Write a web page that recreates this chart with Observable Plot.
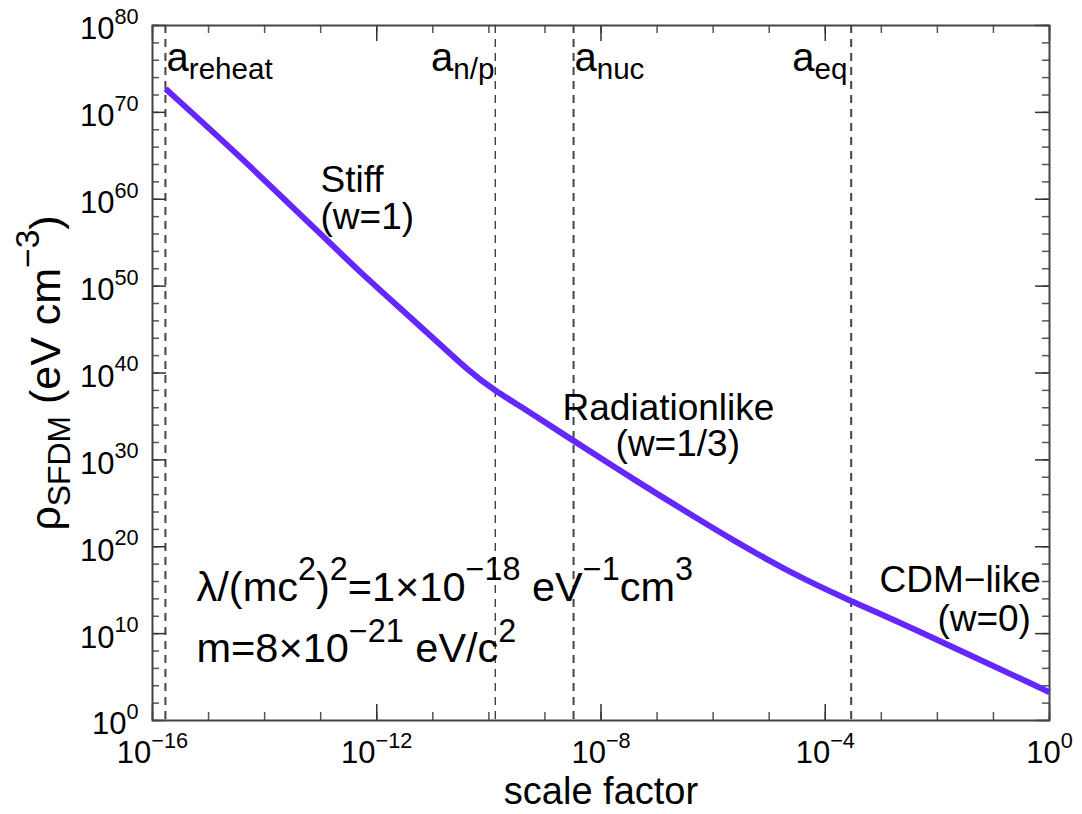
<!DOCTYPE html>
<html>
<head>
<meta charset="utf-8">
<script src="https://cdn.jsdelivr.net/npm/d3@7"></script>
<script src="https://cdn.jsdelivr.net/npm/@observablehq/plot@0.6"></script>
<style>
  html, body { margin: 0; padding: 0; background: #fff; }
</style>
</head>
<body>
<div id="chart"></div>
<script>
// ---- data ----
const scaleFactor = [1.71e-16, 2.82e-15, 1.14e-13, 5.13e-13, 2.65e-12, 1.04e-11, 4.70e-11, 1.22e-10, 4.83e-10, 1.90e-9,
                     5.07e-8, 5.96e-7, 2.34e-6, 9.20e-6, 3.61e-5, 2.82e-4, 2.20e-3, 1];
const rhoSFDM =     [5.13e72, 4.07e65, 4.27e55, 3.7e51, 2.65e47, 9.3e43, 1.15e40, 1.10e38, 4.79e35, 1.41e33,
                     1.78e27, 1.05e23, 5.25e20, 3.4e18, 2.9e16, 5.7e13, 1.9e11, 1.82e3];

const epochNames = ["a_{reheat}", "a_{n/p}", "a_{nuc}", "a_{eq}"];
const epochValues = [1.7e-16, 1.3e-10, 3.24e-9, 2.9e-4];
const epochLabelA = [1.78e-16, 1.26e-10, 3.36e-9, 2.49e-4];
const epochLabelRho = [1.95e76, 1.95e76, 1.95e76, 1.95e76];
const epochLabelAnchor = ["start", "end", "start", "end"];

const phaseLabels = ["Stiff", "(w=1)", "Radiationlike", "(w=1/3)", "CDM−like", "(w=0)"];
const phaseLabelA = [9.93e-14, 9.93e-14, 2.06e-9, 1.82e-8, 9.29e-4, 1.0e-2];
const phaseLabelRho = [1.5e62, 9.1e57, 1.0e36, 7.2e31, 1.3e16, 5.2e11];

const paramLabels = ["λ/(mc^{2})^{2}=1×10^{−18} eV^{−1}cm^{3}", "m=8×10^{−21} eV/c^{2}"];
const paramLabelA = [6.1e-16, 6.1e-16];
const paramLabelRho = [2.1e15, 1.66e8];

const xMinorTicks = [1e-16, 1e-15, 1e-14, 1e-13, 1e-12, 1e-11, 1e-10, 1e-9, 1e-8, 1e-7, 1e-6, 1e-5, 1e-4, 1e-3, 1e-2, 1e-1, 1];
const xMajorTicks = [1e-16, 1e-12, 1e-8, 1e-4, 1];
const xTickLabels = ["10^{−16}", "10^{−12}", "10^{−8}", "10^{−4}", "10^{0}"];
const yMinorTicks = [1e0, 1e2, 1e4, 1e6, 1e8, 1e10, 1e12, 1e14, 1e16, 1e18, 1e20, 1e22, 1e24, 1e26, 1e28, 1e30,
                     1e32, 1e34, 1e36, 1e38, 1e40, 1e42, 1e44, 1e46, 1e48, 1e50, 1e52, 1e54, 1e56, 1e58, 1e60,
                     1e62, 1e64, 1e66, 1e68, 1e70, 1e72, 1e74, 1e76, 1e78, 1e80];
const yMajorTicks = [1e0, 1e10, 1e20, 1e30, 1e40, 1e50, 1e60, 1e70, 1e80];
const yTickLabels = ["10^{0}", "10^{10}", "10^{20}", "10^{30}", "10^{40}", "10^{50}", "10^{60}", "10^{70}", "10^{80}"];

const xLabel = "scale factor";
const yLabel = "ρ_{SFDM} (eV cm^{−3})";

// ---- tables built from the arrays ----
const curve = scaleFactor.map((a, i) => ({a, rho: rhoSFDM[i]}));
const epochs = epochNames.map((name, i) => ({name, a: epochValues[i]}));
const epochText = epochNames.map((name, i) => ({name, a: epochLabelA[i], rho: epochLabelRho[i], anchor: epochLabelAnchor[i]}));
const phaseText = phaseLabels.map((t, i) => ({t, a: phaseLabelA[i], rho: phaseLabelRho[i]}));
const paramText = paramLabels.map((t, i) => ({t, a: paramLabelA[i], rho: paramLabelRho[i]}));

const W = 1082, H = 814;
const mL = 152, mR = 33, mT = 25, mB = 94;
const innerW = W - mL - mR, innerH = H - mT - mB;
const tickColor = "#555";

const chart = Plot.plot({
  width: W, height: H,
  marginLeft: mL, marginRight: mR, marginTop: mT, marginBottom: mB,
  style: {fontFamily: "'Liberation Sans', Arial, Helvetica, sans-serif", background: "#fff", color: "#000"},
  x: {type: "log", domain: [1e-16, 1], axis: null},
  y: {type: "log", domain: [1e0, 1e80], axis: null},
  marks: [
    // dashed epoch markers
    Plot.ruleX(epochs.filter(d => d.name === "a_{n/p}"), {x: "a", stroke: "#222", strokeWidth: 1.2, strokeDasharray: "8,6"}),
    Plot.ruleX(epochs.filter(d => d.name !== "a_{n/p}"), {x: "a", stroke: "#444", strokeWidth: 2, strokeDasharray: "8,6"}),
    // ticks (inward, on all four sides)
    Plot.tickX(xMinorTicks, {x: d => d, insetTop: innerH - 8, stroke: tickColor, strokeWidth: 1.5}),
    Plot.tickX(xMinorTicks, {x: d => d, insetBottom: innerH - 8, stroke: tickColor, strokeWidth: 1.5}),
    Plot.tickX(xMajorTicks, {x: d => d, insetTop: innerH - 16, stroke: "#333", strokeWidth: 1.5}),
    Plot.tickX(xMajorTicks, {x: d => d, insetBottom: innerH - 16, stroke: "#333", strokeWidth: 1.5}),
    Plot.tickY(yMinorTicks, {y: d => d, insetRight: innerW - 7, stroke: tickColor, strokeWidth: 1.5}),
    Plot.tickY(yMinorTicks, {y: d => d, insetLeft: innerW - 7, stroke: tickColor, strokeWidth: 1.5}),
    Plot.tickY(yMajorTicks, {y: d => d, insetRight: innerW - 14, stroke: "#333", strokeWidth: 1.5}),
    Plot.tickY(yMajorTicks, {y: d => d, insetLeft: innerW - 14, stroke: "#333", strokeWidth: 1.5}),
    Plot.frame({stroke: "#444", strokeWidth: 2}),
    // density curve
    Plot.line(curve, {x: "a", y: "rho", stroke: "#6428ff", strokeWidth: 6, curve: "basis", strokeLinecap: "butt"}),
    // tick labels
    Plot.text(xMajorTicks, {x: d => d, text: (d, i) => xTickLabels[i], frameAnchor: "bottom", lineAnchor: "middle", textAnchor: "middle", dy: 33, fontSize: 31, fill: "#000"}),
    Plot.text(yMajorTicks, {y: d => d, text: (d, i) => yTickLabels[i], frameAnchor: "left", lineAnchor: "middle", textAnchor: "end", dx: -14, dy: 4, fontSize: 31, fill: "#000"}),
    // axis labels
    Plot.text([xLabel], {frameAnchor: "bottom", lineAnchor: "middle", textAnchor: "middle", dy: 71, fontSize: 38, fill: "#000"}),
    Plot.text([yLabel], {frameAnchor: "left", lineAnchor: "middle", textAnchor: "middle", rotate: -90, dx: -106, fontSize: 43, fill: "#000"}),
    // annotations
    Plot.text(epochText.filter(d => d.anchor === "start"), {x: "a", y: "rho", text: "name", textAnchor: "start", lineAnchor: "middle", fontSize: 40, fill: "#000"}),
    Plot.text(epochText.filter(d => d.anchor === "end"), {x: "a", y: "rho", text: "name", textAnchor: "end", lineAnchor: "middle", fontSize: 40, fill: "#000"}),
    Plot.text(phaseText, {x: "a", y: "rho", text: "t", textAnchor: "start", lineAnchor: "middle", fontSize: 37, fill: "#000"}),
    Plot.text(paramText, {x: "a", y: "rho", text: "t", textAnchor: "start", lineAnchor: "middle", fontSize: 41.5, fill: "#000"})
  ]
});

document.getElementById("chart").appendChild(chart);

// turn ^{...} and _{...} markup into real superscript / subscript tspans
function richify(svg) {
  const NS = "http://www.w3.org/2000/svg";
  svg.querySelectorAll("text").forEach(t => {
    const s = t.textContent;
    if (!/[\^_]\{/.test(s)) return;
    const fs = parseFloat(getComputedStyle(t).fontSize) || 16;
    const supRatio = fs > 41 ? 0.78 : 0.7;
    const parts = [];
    const re = /([\^_])\{([^}]*)\}/g;
    let last = 0, m;
    while ((m = re.exec(s))) {
      if (m.index > last) parts.push({t: s.slice(last, m.index)});
      parts.push({t: m[2], k: m[1]});
      last = re.lastIndex;
    }
    if (last < s.length) parts.push({t: s.slice(last)});
    while (t.firstChild) t.removeChild(t.firstChild);
    let cur = 0;
    for (const p of parts) {
      const target = p.k === "^" ? -0.5 * fs : p.k === "_" ? 0.22 * fs : 0;
      const ts = document.createElementNS(NS, "tspan");
      if (target - cur !== 0) ts.setAttribute("dy", (target - cur).toFixed(2));
      cur = target;
      if (p.k === "^") ts.setAttribute("font-size", (supRatio * fs).toFixed(1));
      if (p.k === "_") ts.setAttribute("font-size", (0.74 * fs).toFixed(1));
      ts.textContent = p.t;
      t.appendChild(ts);
    }
  });
}
richify(chart);
</script>
</body>
</html>
